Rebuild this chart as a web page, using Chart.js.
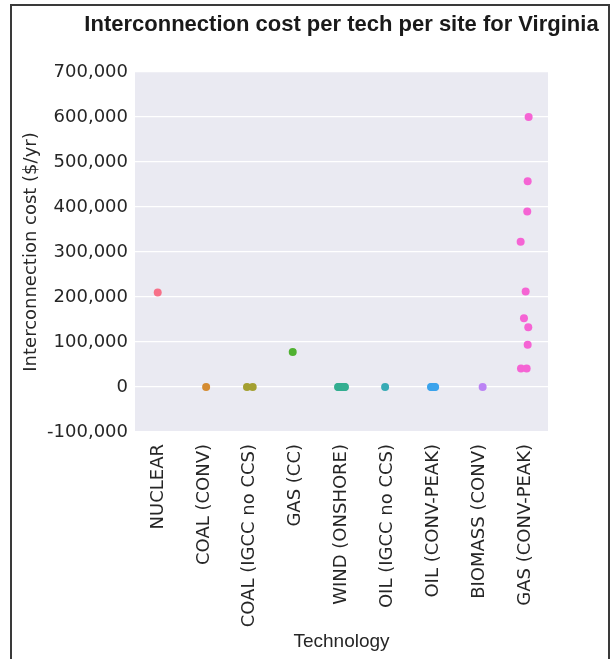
<!DOCTYPE html>
<html>
<head>
<meta charset="utf-8">
<script src="https://cdn.jsdelivr.net/npm/chart.js@4"></script>
<style>
  html, body { margin: 0; padding: 0; background: #fff; overflow: hidden; }
  #frame { position: absolute; left: 10px; top: 4px; width: 600px; height: 700px;
           box-sizing: border-box; border: 2px solid #3a3a3a; }
  #wrap { position: absolute; left: 0; top: 0; width: 611px; height: 659px; }
</style>
</head>
<body>
<div id="frame"></div>
<div id="wrap"><canvas id="chart"></canvas></div>
<script>
const categories = ["NUCLEAR", "COAL (CONV)", "COAL (IGCC no CCS)", "GAS (CC)", "WIND (ONSHORE)",
                    "OIL (IGCC no CCS)", "OIL (CONV-PEAK)", "BIOMASS (CONV)", "GAS (CONV-PEAK)"];
const colors = ["#f77189", "#d58c32", "#a4a031", "#50b131", "#34ae91",
                "#37abb5", "#3ba3ec", "#bb83f4", "#f564d4"];

// interconnection cost ($/yr) of each site, grouped by technology
const costs = [
    [210000],
    [0],
    [0, 0],
    [78000],
    [0, 0, 0, 0, 0, 0, 0, 0, 0],
    [0],
    [0, 0, 0, 0, 0],
    [0],
    [600000, 457000, 390000, 323000, 212000, 153000, 133000, 94000, 41000, 41000],
];
// strip jitter of each point (fraction of a category)
const jitter = [
    [-0.005],
    [0.05],
    [-0.06, 0.065],
    [-0.063],
    [-0.075, -0.06, -0.04, -0.02, 0.0, 0.02, 0.04, 0.06, 0.075],
    [-0.05],
    [-0.05, -0.03, 0.0, 0.02, 0.04],
    [0.076],
    [0.078, 0.057, 0.048, -0.096, 0.013, -0.024, 0.07, 0.057, -0.089, 0.035],
];
const yTicks = [-100000, 0, 100000, 200000, 300000, 400000, 500000, 600000, 700000];

const datasets = categories.map((name, i) => ({
    label: name,
    data: costs[i].map((v, j) => ({ x: i + jitter[i][j], y: v })),
    backgroundColor: colors[i],
    borderWidth: 0,
    pointRadius: 4,
}));

// grey plot background like seaborn darkgrid
const plotBg = {
    id: "plotBg",
    beforeDraw(chart) {
        const { ctx, chartArea: a } = chart;
        ctx.save();
        ctx.fillStyle = "#eaeaf2";
        ctx.fillRect(a.left, a.top, a.right - a.left, a.bottom - a.top);
        ctx.restore();
    },
};

// title centred over the plot, not the canvas
const plotTitle = {
    id: "plotTitle",
    afterDraw(chart) {
        const { ctx, chartArea: a } = chart;
        ctx.save();
        ctx.font = "bold 22px 'Liberation Sans', Arial, sans-serif";
        ctx.fillStyle = "#1a1a1a";
        ctx.textAlign = "center";
        ctx.textBaseline = "middle";
        ctx.fillText("Interconnection cost per tech per site for Virginia", (a.left + a.right) / 2, 25);
        ctx.restore();
    },
};

new Chart(document.getElementById("chart"), {
    type: "scatter",
    data: { datasets },
    options: {
        responsive: true,
        maintainAspectRatio: false,
        animation: false,
        layout: { padding: { top: 72, right: 63, left: 0, bottom: 0 } },
        plugins: { legend: { display: false }, tooltip: { enabled: false } },
        scales: {
            x: {
                type: "linear",
                min: -0.5,
                max: 8.5,
                afterBuildTicks: (axis) => { axis.ticks = categories.map((_, i) => ({ value: i })); },
                afterFit: (axis) => { axis.height = 227; },
                grid: { display: false },
                border: { display: false },
                ticks: {
                    autoSkip: false,
                    minRotation: 90,
                    maxRotation: 90,
                    padding: 4,
                    color: "#262626",
                    font: { family: "'DejaVu Sans', sans-serif", size: 18 },
                    callback: (v) => categories[v],
                },
                title: {
                    display: true,
                    text: "Technology",
                    color: "#262626",
                    font: { family: "'Liberation Sans', Arial, sans-serif", size: 19 },
                    padding: { top: 0, bottom: 6 },
                },
            },
            y: {
                min: -100000,
                max: 700000,
                afterBuildTicks: (axis) => { axis.ticks = yTicks.map((v) => ({ value: v })); },
                afterFit: (axis) => { axis.width = 135; },
                grid: { color: "#ffffff", lineWidth: 1.2, drawTicks: false },
                border: { display: false },
                ticks: {
                    padding: 7,
                    color: "#262626",
                    font: { family: "'DejaVu Sans', sans-serif", size: 18 },
                    callback: (v) => v.toLocaleString("en-US"),
                },
                title: {
                    display: true,
                    text: "Interconnection cost ($/yr)",
                    color: "#262626",
                    font: { family: "'DejaVu Sans', sans-serif", size: 18 },
                    padding: { top: 21, bottom: 0 },
                },
            },
        },
    },
    plugins: [plotBg, plotTitle],
});
</script>
</body>
</html>
